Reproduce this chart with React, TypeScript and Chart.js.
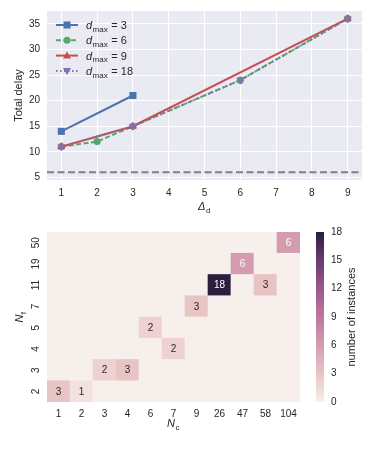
import React, { useEffect, useRef } from "react";
import { Chart, registerables } from "chart.js";
Chart.register(...registerables);

// ---------- top chart data ----------
const deltaTicks = [1, 2, 3, 4, 5, 6, 7, 8, 9];
const delayTicks = [5, 10, 15, 20, 25, 30, 35];
const d3X = [1, 3];
const d3Y = [14, 21];
const d6X = [1, 2, 3, 6, 9];
const d6Y = [11, 12, 15, 24, 36];
const d9X = [1, 3, 9];
const d9Y = [11, 15, 36];
const d18X = [1, 3, 6, 9];
const d18Y = [11, 15, 24, 36];
const lowerBound = 6;
const seriesLabels = ["3", "6", "9", "18"];

// ---------- heatmap data ----------
const ncLabels = ["1", "2", "3", "4", "6", "7", "9", "26", "47", "58", "104"];
const nfLabels = ["2", "3", "4", "5", "7", "11", "19", "50"]; // bottom to top
const rowNf2 = [3, 1, 0, 0, 0, 0, 0, 0, 0, 0, 0];
const rowNf3 = [0, 0, 2, 3, 0, 0, 0, 0, 0, 0, 0];
const rowNf4 = [0, 0, 0, 0, 0, 2, 0, 0, 0, 0, 0];
const rowNf5 = [0, 0, 0, 0, 2, 0, 0, 0, 0, 0, 0];
const rowNf7 = [0, 0, 0, 0, 0, 0, 3, 0, 0, 0, 0];
const rowNf11 = [0, 0, 0, 0, 0, 0, 0, 18, 0, 3, 0];
const rowNf19 = [0, 0, 0, 0, 0, 0, 0, 0, 6, 0, 0];
const rowNf50 = [0, 0, 0, 0, 0, 0, 0, 0, 0, 0, 6];
const cbTicks = [0, 3, 6, 9, 12, 15, 18];
const cbMax = 18;

const rows = [rowNf2, rowNf3, rowNf4, rowNf5, rowNf7, rowNf11, rowNf19, rowNf50];

// ---------- styles ----------
const FONT = "'Liberation Sans', Arial, sans-serif";
const TXT = "#262626";
const BLUE = "#4C72B0";
const GREEN = "#55A868";
const RED = "#C44E52";
const PURPLE = "#8172B2";

const cmapStops: [number, number[]][] = [
  [0, [247, 239, 235]],
  [3 / 18, [232, 196, 196]],
  [6 / 18, [212, 157, 175]],
  [9 / 18, [190, 120, 158]],
  [12 / 18, [154, 88, 141]],
  [15 / 18, [104, 59, 113]],
  [1, [45, 30, 62]],
];
function cmap(v: number): string {
  const t = Math.max(0, Math.min(1, v / cbMax));
  for (let i = 0; i < cmapStops.length - 1; i++) {
    const [a, ca] = cmapStops[i];
    const [b, cb] = cmapStops[i + 1];
    if (t <= b) {
      const f = (t - a) / (b - a);
      const c = ca.map((x, k) => Math.round(x + (cb[k] - x) * f));
      return `rgb(${c[0]},${c[1]},${c[2]})`;
    }
  }
  return "rgb(45,30,62)";
}

function zip(xs: number[], ys: number[]) {
  return xs.map((x, i) => ({ x, y: ys[i] }));
}

function drawMarker(ctx: CanvasRenderingContext2D, style: string, x: number, y: number, color: string) {
  ctx.save();
  ctx.fillStyle = color;
  ctx.beginPath();
  if (style === "rect") {
    ctx.rect(x - 3.5, y - 3.5, 7, 7);
  } else if (style === "circle") {
    ctx.arc(x, y, 3.5, 0, Math.PI * 2);
  } else if (style === "tri") {
    ctx.moveTo(x, y - 4.2);
    ctx.lineTo(x + 4, y + 3);
    ctx.lineTo(x - 4, y + 3);
    ctx.closePath();
  } else {
    ctx.moveTo(x, y + 4.2);
    ctx.lineTo(x + 4, y - 3);
    ctx.lineTo(x - 4, y - 3);
    ctx.closePath();
  }
  ctx.fill();
  ctx.restore();
}

function drawSubLabel(
  ctx: CanvasRenderingContext2D,
  main: string,
  sub: string,
  rest: string,
  x: number,
  y: number,
  size: number,
  align: "left" | "center"
) {
  ctx.save();
  ctx.fillStyle = TXT;
  ctx.textBaseline = "alphabetic";
  ctx.textAlign = "left";
  const mainFont = `italic ${size}px ${FONT}`;
  const subFont = `${Math.round(size * 0.72)}px ${FONT}`;
  const restFont = `${size}px ${FONT}`;
  ctx.font = mainFont;
  const w1 = ctx.measureText(main).width;
  ctx.font = subFont;
  const w2 = ctx.measureText(sub).width;
  ctx.font = restFont;
  const w3 = ctx.measureText(rest).width;
  const total = w1 + w2 + 1 + w3;
  let sx = align === "center" ? x - total / 2 : x;
  ctx.font = mainFont;
  ctx.fillText(main, sx, y);
  sx += w1 + 0.5;
  ctx.font = subFont;
  ctx.fillText(sub, sx, y + size * 0.25);
  sx += w2 + 0.5;
  ctx.font = restFont;
  ctx.fillText(rest, sx, y);
  ctx.restore();
}

function noPad(s: any) {
  s.paddingTop = 0;
  s.paddingBottom = 0;
  s.paddingLeft = 0;
  s.paddingRight = 0;
}

function TopChart() {
  const ref = useRef<HTMLCanvasElement>(null);
  useEffect(() => {
    const markers = ["rect", "circle", "tri", "dtri"];
    const colors = [BLUE, GREEN, RED, PURPLE];
    const dashes = [[], [5, 2.5], [], [1.5, 2.5]];
    const bgPlugin = {
      id: "bg",
      beforeDraw(chart: any) {
        const { ctx, chartArea: a } = chart;
        ctx.save();
        ctx.fillStyle = "#EAEAF2";
        ctx.fillRect(a.left, a.top, a.right - a.left, a.bottom - a.top);
        ctx.restore();
      },
      beforeDatasetsDraw(chart: any) {
        const { ctx, chartArea: a } = chart;
        const y = chart.scales.y.getPixelForValue(lowerBound);
        ctx.save();
        ctx.strokeStyle = "#808080";
        ctx.lineWidth = 2;
        ctx.setLineDash([7, 3.5]);
        ctx.beginPath();
        ctx.moveTo(a.left, y);
        ctx.lineTo(a.right, y);
        ctx.stroke();
        ctx.restore();
      },
      afterDraw(chart: any) {
        const { ctx, chartArea: a } = chart;
        // legend
        for (let i = 0; i < 4; i++) {
          const y = a.top + 14 + i * 15.3;
          const x0 = a.left + 9;
          ctx.save();
          ctx.strokeStyle = colors[i];
          ctx.lineWidth = 2;
          ctx.setLineDash(dashes[i]);
          ctx.beginPath();
          ctx.moveTo(x0, y);
          ctx.lineTo(x0 + 22, y);
          ctx.stroke();
          ctx.restore();
          drawMarker(ctx, markers[i], x0 + 11, y, colors[i]);
          drawSubLabel(ctx, "d", "max", " = " + seriesLabels[i], x0 + 30, y + 4, 11, "left");
        }
        // axis titles
        ctx.save();
        ctx.fillStyle = TXT;
        ctx.font = `11px ${FONT}`;
        ctx.textAlign = "center";
        ctx.textBaseline = "middle";
        ctx.translate(19, (a.top + a.bottom) / 2);
        ctx.rotate(-Math.PI / 2);
        ctx.fillText("Total delay", 0, 0);
        ctx.restore();
        drawSubLabel(ctx, "Δ", "d", "", (a.left + a.right) / 2, 210, 11, "center");
      },
    };
    const mk = (xs: number[], ys: number[], i: number, style: any, rot: number, order: number) => ({
      data: zip(xs, ys),
      borderColor: colors[i],
      backgroundColor: colors[i],
      borderWidth: 2,
      borderDash: dashes[i],
      pointStyle: style,
      pointRadius: style === "rect" ? 5 : style === "circle" ? 3.6 : 4.6,
      pointRotation: rot,
      pointBorderWidth: 0,
      order,
    });
    const chart = new Chart(ref.current!, {
      type: "line",
      data: {
        datasets: [
          mk(d3X, d3Y, 0, "rect", 0, 3),
          mk(d6X, d6Y, 1, "circle", 0, 2),
          mk(d9X, d9Y, 2, "triangle", 0, 1),
          mk(d18X, d18Y, 3, "triangle", 180, 0),
        ] as any,
      },
      options: {
        animation: false,
        responsive: false,
        layout: { padding: { top: 11, right: 12, left: 0, bottom: 0 } },
        plugins: { legend: { display: false }, tooltip: { enabled: false } },
        scales: {
          x: {
            type: "linear",
            min: 0.6,
            max: 9.4,
            afterBuildTicks: (s: any) => {
              s.ticks = deltaTicks.map((v) => ({ value: v }));
            },
            afterFit: (s: any) => {
              s.height = 35;
              noPad(s);
            },
            grid: { color: "#ffffff", lineWidth: 1, drawTicks: false },
            border: { display: false },
            ticks: { padding: 7, font: { family: FONT, size: 10 }, color: TXT },
          },
          y: {
            type: "linear",
            min: 4.5,
            max: 37.5,
            afterBuildTicks: (s: any) => {
              s.ticks = delayTicks.map((v) => ({ value: v }));
            },
            afterFit: (s: any) => {
              s.width = 47;
              noPad(s);
            },
            grid: { color: "#ffffff", lineWidth: 1, drawTicks: false },
            border: { display: false },
            ticks: { padding: 7, font: { family: FONT, size: 10 }, color: TXT },
          },
        },
      } as any,
      plugins: [bgPlugin],
    });
    return () => chart.destroy();
  }, []);
  return <canvas ref={ref} width={374} height={215} style={{ position: "absolute", left: 0, top: 0 }} />;
}

function HeatChart() {
  const ref = useRef<HTMLCanvasElement>(null);
  useEffect(() => {
    const plugin = {
      id: "heat",
      afterDatasetsDraw(chart: any) {
        const { ctx } = chart;
        ctx.save();
        ctx.font = `10px ${FONT}`;
        ctx.textAlign = "center";
        ctx.textBaseline = "middle";
        rows.forEach((row, r) => {
          const meta = chart.getDatasetMeta(r);
          row.forEach((v, i) => {
            if (v <= 0) return;
            const el = meta.data[i];
            ctx.fillStyle = v >= 6 ? "#ffffff" : TXT;
            ctx.fillText(String(v), el.x, (el.y + el.base) / 2 + 0.5);
          });
        });
        ctx.restore();
      },
      afterDraw(chart: any) {
        const { ctx, chartArea: a } = chart;
        const ys = chart.scales.y;
        // row tick labels (rotated)
        ctx.save();
        ctx.fillStyle = TXT;
        ctx.font = `10px ${FONT}`;
        ctx.textAlign = "center";
        ctx.textBaseline = "middle";
        nfLabels.forEach((lab, r) => {
          const y = ys.getPixelForValue(r + 0.5);
          ctx.save();
          ctx.translate(36, y);
          ctx.rotate(-Math.PI / 2);
          ctx.fillText(lab, 0, 0);
          ctx.restore();
        });
        ctx.restore();
        // colorbar
        const cb = chart.scales.cb;
        const y0 = cb.getPixelForValue(0);
        const y1 = cb.getPixelForValue(cbMax);
        const grad = ctx.createLinearGradient(0, y0, 0, y1);
        cmapStops.forEach(([t]) => grad.addColorStop(t, cmap(t * cbMax)));
        ctx.save();
        ctx.fillStyle = grad;
        ctx.fillRect(cb.left + 16, y1, 8, y0 - y1);
        ctx.restore();
        // colorbar title
        ctx.save();
        ctx.fillStyle = TXT;
        ctx.font = `11px ${FONT}`;
        ctx.textAlign = "center";
        ctx.textBaseline = "middle";
        ctx.translate(352, (y0 + y1) / 2);
        ctx.rotate(-Math.PI / 2);
        ctx.fillText("number of instances", 0, 0);
        ctx.restore();
        // axis titles
        drawSubLabel(ctx, "N", "c", "", (a.left + a.right) / 2, 212, 11, "center");
        ctx.save();
        ctx.translate(23, (a.top + a.bottom) / 2);
        ctx.rotate(-Math.PI / 2);
        drawSubLabel(ctx, "N", "f", "", 0, 0, 11, "center");
        ctx.restore();
      },
    };
    const chart = new Chart(ref.current!, {
      type: "bar",
      data: {
        labels: ncLabels,
        datasets: rows.map((row) => ({
          data: row.map(() => 1),
          backgroundColor: row.map(cmap),
          borderWidth: 0,
          categoryPercentage: 1,
          barPercentage: 1,
          yAxisID: "y",
          stack: "s",
        })),
      },
      options: {
        animation: false,
        responsive: false,
        layout: { padding: { top: 17, right: 0, left: 0, bottom: 0 } },
        plugins: { legend: { display: false }, tooltip: { enabled: false } },
        scales: {
          x: {
            stacked: true,
            grid: { display: false, drawTicks: false },
            border: { display: false },
            afterFit: (s: any) => {
              s.height = 47;
              noPad(s);
            },
            ticks: { padding: 6, font: { family: FONT, size: 10 }, color: TXT, maxRotation: 0, autoSkip: false },
          },
          y: {
            type: "linear",
            stacked: true,
            min: 0,
            max: nfLabels.length,
            grid: { display: false, drawTicks: false },
            border: { display: false },
            ticks: { display: false },
            afterFit: (s: any) => {
              s.width = 47;
              noPad(s);
            },
          },
          cb: {
            type: "linear",
            position: "right",
            min: 0,
            max: cbMax,
            afterBuildTicks: (s: any) => {
              s.ticks = cbTicks.map((v) => ({ value: v }));
            },
            afterFit: (s: any) => {
              s.width = 74;
              noPad(s);
            },
            grid: { display: false, drawTicks: false },
            border: { display: false },
            ticks: { padding: 31, font: { family: FONT, size: 10 }, color: TXT },
          },
        },
      } as any,
      plugins: [plugin],
    });
    return () => chart.destroy();
  }, []);
  return <canvas ref={ref} width={374} height={234} style={{ position: "absolute", left: 0, top: 215 }} />;
}

export default function App() {
  return (
    <div style={{ position: "fixed", left: 0, top: 0, width: 374, height: 449, background: "#ffffff" }}>
      <TopChart />
      <HeatChart />
    </div>
  );
}
